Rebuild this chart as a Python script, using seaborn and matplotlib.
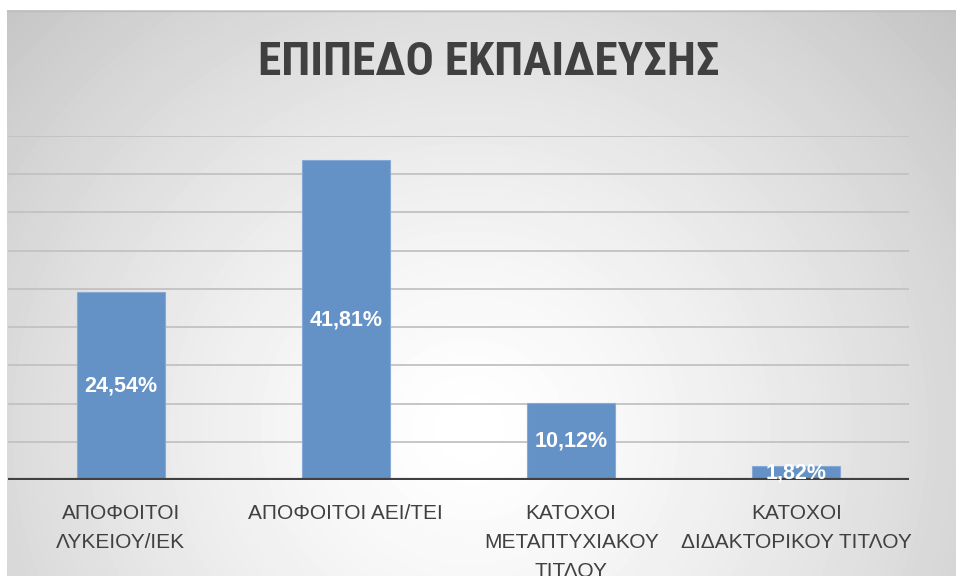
import matplotlib
matplotlib.use("Agg")
import matplotlib.pyplot as plt
from matplotlib import font_manager
import seaborn as sns
import numpy as np
import pandas as pd

CATEGORIES = [
    "ΑΠΟΦΟΙΤΟΙ\nΛΥΚΕΙΟΥ/ΙΕΚ",
    "ΑΠΟΦΟΙΤΟΙ ΑΕΙ/ΤΕΙ",
    "ΚΑΤΟΧΟΙ\nΜΕΤΑΠΤΥΧΙΑΚΟΥ\nΤΙΤΛΟΥ",
    "ΚΑΤΟΧΟΙ\nΔΙΔΑΚΤΟΡΙΚΟΥ ΤΙΤΛΟΥ",
]
VALUES = [24.54, 41.81, 10.12, 1.82]
TITLE = "ΕΠΙΠΕΔΟ ΕΚΠΑΙΔΕΥΣΗΣ"

df = pd.DataFrame({"cat": CATEGORIES, "val": VALUES})

sns.set_style("white")
plt.rcParams["font.family"] = ["Liberation Sans", "DejaVu Sans"]

# pick a narrow font for the title if one is around
installed = {(f.name, f.stretch) for f in font_manager.fontManager.ttflist}
names = {n for n, _ in installed}
title_font = dict(family=["Roboto", "DejaVu Sans"])
for cand in ["Liberation Sans Narrow", "Roboto Condensed", "Open Sans Condensed"]:
    if cand in names:
        title_font = dict(family=[cand, "DejaVu Sans"])
        break
else:
    if any(n == "DejaVu Sans" and s in ("condensed", "semi-condensed") for n, s in installed):
        title_font = dict(family=["DejaVu Sans"], fontstretch="condensed")

W, H = 956, 576
fig = plt.figure(figsize=(W / 100, H / 100), dpi=100, facecolor="white")

# radial grey background of the chart area
bg = fig.add_axes([7 / W, 0, 1 - 7 / W, 1 - 10 / H], zorder=0)
yy, xx = np.mgrid[10:H, 7:W]
d = np.hypot((xx - 470) / 1.05, yy - 430)
shade = 1 - 0.22 * np.clip(d / 600, 0, 1.2) ** 1.4
bg.imshow(shade, cmap="gray", vmin=0, vmax=1, aspect="auto",
          extent=(0, 1, 0, 1), interpolation="bilinear")
bg.set_axis_off()
fig.add_artist(plt.Line2D([7 / W, 1], [1 - 10.5 / H] * 2, color="#bdbdbd", lw=1))

ax = fig.add_axes([8 / W, 96 / H, 901 / W, 344 / H], zorder=1)
ax.set_facecolor("none")
sns.barplot(data=df, x="cat", y="val", ax=ax, color="#6592C6", saturation=1,
            width=0.39, edgecolor="#86A9D6", linewidth=0.8, zorder=3)

ax.set_ylim(0, 45)
ax.set_yticks(np.arange(0, 46, 5))
ax.set_yticklabels([])
ax.yaxis.grid(True, color="#c2c2c2", lw=1.3, zorder=0)
ax.set_axisbelow(True)
ax.axhline(0, color="#404040", lw=3, zorder=4)
for s in ax.spines.values():
    s.set_visible(False)
ax.set_xlabel("")
ax.set_ylabel("")
ax.tick_params(axis="both", length=0)
ax.tick_params(axis="x", pad=17, labelsize=15, labelcolor="#404040")
for t in ax.get_xticklabels():
    t.set_linespacing(1.68)

labels = [f"{v:.2f}%".replace(".", ",") for v in VALUES]
ax.bar_label(ax.containers[0], labels=labels, label_type="center",
             color="white", fontweight="bold", fontsize=15.5, zorder=5)

title = fig.text(489 / W, 1 - 62 / H, TITLE, ha="center", va="center",
                 fontsize=32, fontweight="bold", color="#404040", **title_font)
# fit the title to the reference width (about 462 px)
renderer = fig.canvas.get_renderer()
tw = title.get_window_extent(renderer).width
title.set_fontsize(min(36, 32 * 462 / tw))

fig.savefig("out.png", dpi=100, facecolor="white")
